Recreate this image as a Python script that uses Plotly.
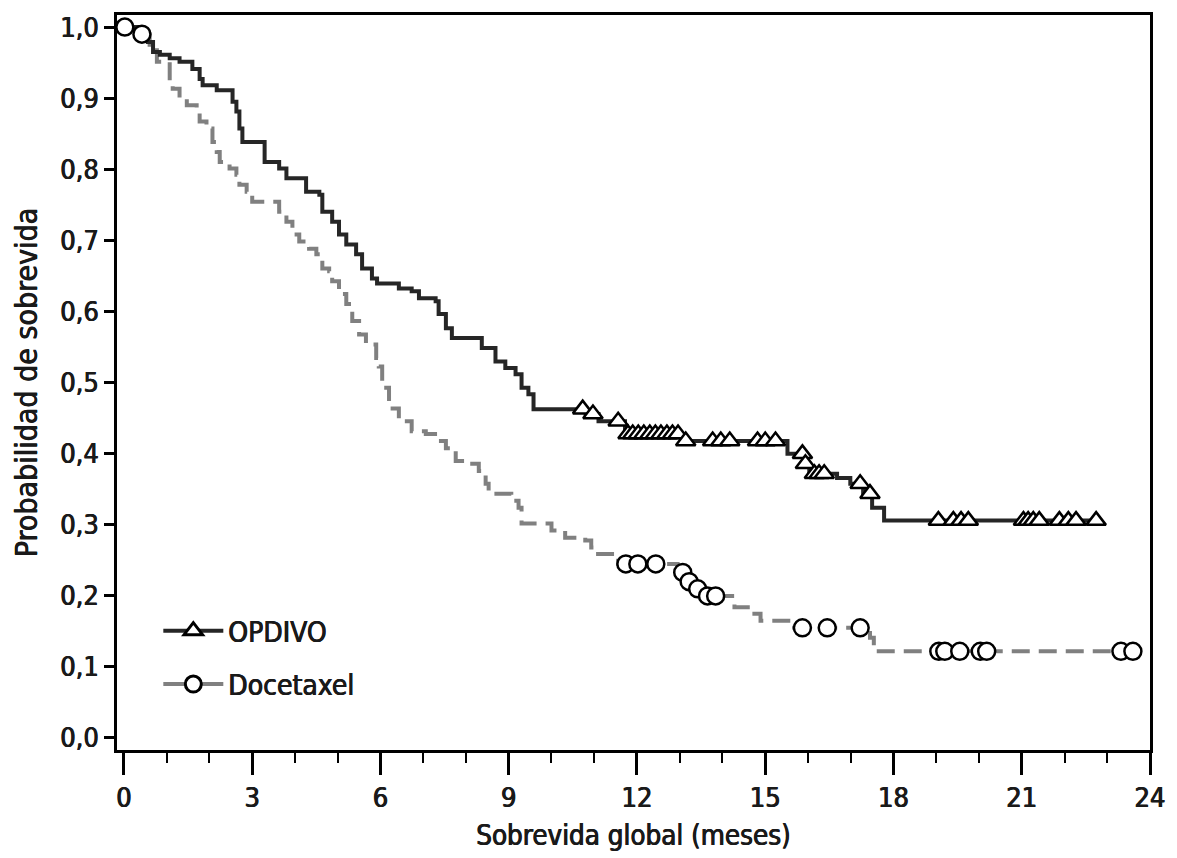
import plotly.graph_objects as go

# ---------------- data ----------------
# OPDIVO: Kaplan-Meier step points (time in months, survival after the step)
opdivo_t = [0.0, 0.44, 0.56, 0.68, 0.84, 1.07, 1.30, 1.60, 1.77, 1.84, 2.17, 2.54, 2.63,
            2.70, 2.77, 3.29, 3.63, 3.80, 4.26, 4.57, 4.64, 4.87, 5.03, 5.20, 5.43,
            5.57, 5.80, 5.92, 6.43, 6.73, 6.90, 7.29, 7.36, 7.53, 7.67, 8.37, 8.69,
            8.92, 9.16, 9.30, 9.46, 9.58, 10.80, 11.10, 11.72, 13.10, 15.52, 15.90,
            16.03, 16.68, 16.99, 17.29, 17.50, 17.78, 22.74]
opdivo_s = [1.000, 0.989, 0.979, 0.965, 0.961, 0.956, 0.951, 0.941, 0.927, 0.918, 0.911,
            0.895, 0.881, 0.857, 0.838, 0.810, 0.801, 0.787, 0.768, 0.764, 0.740, 0.726,
            0.708, 0.694, 0.680, 0.660, 0.646, 0.639, 0.632, 0.628, 0.618, 0.614, 0.596,
            0.576, 0.562, 0.548, 0.529, 0.520, 0.511, 0.492, 0.483, 0.462, 0.455, 0.445,
            0.427, 0.417, 0.399, 0.385, 0.371, 0.365, 0.357, 0.343, 0.323, 0.305, 0.305]
opdivo_censor = [10.73, 10.97, 11.56, 11.79, 11.90, 12.03, 12.16, 12.30, 12.43, 12.56,
                 12.70, 12.83, 12.96, 13.14, 13.77, 13.96, 14.17, 14.82, 15.00, 15.24,
                 15.87, 15.94, 16.15, 16.26, 16.38, 17.22, 17.45, 19.05, 19.40, 19.58,
                 19.75, 21.04, 21.15, 21.27, 21.41, 21.88, 22.09, 22.27, 22.74]

# Docetaxel
doce_t = [0.0, 0.30, 0.60, 0.77, 1.07, 1.14, 1.30, 1.47, 1.70, 1.77, 1.93, 2.07, 2.17,
          2.24, 2.47, 2.63, 2.70, 2.87, 3.00, 3.63, 3.80, 3.94, 4.10, 4.33, 4.50, 4.64,
          4.80, 4.87, 5.03, 5.20, 5.34, 5.50, 5.66, 5.90, 5.96, 6.04, 6.20, 6.43, 6.73,
          7.06, 7.36, 7.53, 7.76, 8.06, 8.30, 8.46, 8.53, 9.06, 9.23, 9.30, 10.00, 10.32,
          10.79, 10.93, 11.09, 11.56, 12.95, 13.15, 13.35, 13.55, 14.28, 14.66, 14.89,
          15.60, 17.45, 17.54, 23.60]
doce_s = [1.000, 0.990, 0.975, 0.951, 0.923, 0.913, 0.899, 0.890, 0.881, 0.867, 0.857,
          0.838, 0.824, 0.810, 0.801, 0.792, 0.778, 0.768, 0.754, 0.740, 0.726, 0.708,
          0.698, 0.688, 0.680, 0.660, 0.656, 0.642, 0.624, 0.610, 0.586, 0.567, 0.553,
          0.534, 0.522, 0.492, 0.463, 0.445, 0.431, 0.427, 0.417, 0.407, 0.389, 0.385,
          0.375, 0.357, 0.343, 0.333, 0.323, 0.301, 0.291, 0.281, 0.277, 0.267, 0.258,
          0.244, 0.232, 0.219, 0.209, 0.199, 0.183, 0.174, 0.164, 0.154, 0.140, 0.121,
          0.121]
doce_censor = [0.02, 0.42, 11.74, 12.02, 12.44, 13.07, 13.22, 13.42, 13.65, 13.84,
               15.87, 16.45, 17.22, 19.06, 19.20, 19.55, 20.03, 20.18, 23.32, 23.60]

x_ticks = [0, 3, 6, 9, 12, 15, 18, 21, 24]
y_ticks = [0.0, 0.1, 0.2, 0.3, 0.4, 0.5, 0.6, 0.7, 0.8, 0.9, 1.0]
y_ticktext = ["0,0", "0,1", "0,2", "0,3", "0,4", "0,5", "0,6", "0,7", "0,8", "0,9", "1,0"]

series_names = ["OPDIVO", "Docetaxel"]


def km_value(times, surv, t):
    """Survival of a KM step curve at time t (last step at or before t)."""
    val = surv[0]
    for ti, si in zip(times, surv):
        if ti <= t:
            val = si
        else:
            break
    return val


FONT = "DejaVu Sans Condensed, Liberation Sans Narrow, Arial Narrow, sans-serif"
TXT = "#1a1a1a"
SHADOW = "0.45px 0 0 #1a1a1a, -0.45px 0 0 #1a1a1a"
DARK = "#262626"
GRAY = "#808080"


def tfont(size):
    return dict(size=size, family=FONT, color=TXT, shadow=SHADOW)


fig = go.Figure()

fig.add_trace(go.Scatter(x=doce_t, y=doce_s, mode="lines", line_shape="hv",
                         line=dict(color=GRAY, width=4, dash="18px,9px"),
                         showlegend=False, hoverinfo="skip"))
fig.add_trace(go.Scatter(x=opdivo_t, y=opdivo_s, mode="lines", line_shape="hv",
                         line=dict(color=DARK, width=4),
                         showlegend=False, hoverinfo="skip"))

fig.add_trace(go.Scatter(x=doce_censor,
                         y=[km_value(doce_t, doce_s, t) for t in doce_censor],
                         mode="markers",
                         marker=dict(symbol="circle", size=17, color="white",
                                     line=dict(color="black", width=2.5)),
                         showlegend=False, hoverinfo="skip"))
fig.add_trace(go.Scatter(x=opdivo_censor,
                         y=[km_value(opdivo_t, opdivo_s, t) for t in opdivo_censor],
                         mode="markers",
                         marker=dict(symbol="triangle-up", size=17, color="white",
                                     line=dict(color="black", width=2.5)),
                         showlegend=False, hoverinfo="skip"))

# legend entries
fig.add_trace(go.Scatter(x=[None], y=[None], mode="lines+markers", name=series_names[0],
                         legendgroup="a",
                         line=dict(color=DARK, width=4),
                         marker=dict(symbol="triangle-up", size=18, color="white",
                                     line=dict(color="black", width=3))))
fig.add_trace(go.Scatter(x=[None], y=[None], mode="lines+markers", name=series_names[1],
                         legendgroup="b",
                         line=dict(color=GRAY, width=4),
                         marker=dict(symbol="circle", size=18, color="white",
                                     line=dict(color="black", width=3))))

fig.update_layout(
    width=1177, height=858,
    margin=dict(l=117, r=23, t=13, b=108, pad=0),
    paper_bgcolor="white", plot_bgcolor="white",
    font=dict(family=FONT, color=TXT, size=26),
    legend=dict(x=0.04, y=0.196, xanchor="left", yanchor="top",
                bgcolor="rgba(0,0,0,0)", font=tfont(28),
                tracegroupgap=14, itemwidth=60, traceorder="grouped"),
    xaxis=dict(range=[-0.163, 24.0], tickvals=x_ticks, ticktext=[str(v) for v in x_ticks],
               ticks="outside", ticklen=22, tickwidth=2.5, tickcolor="black",
               minor=dict(dtick=1, tick0=0, ticks="outside", ticklen=10, tickwidth=2,
                          tickcolor="black"),
               showline=True, linecolor="black", linewidth=2.5, mirror=True,
               showgrid=False, zeroline=False,
               tickfont=tfont(27),
               title=dict(text="Sobrevida global (meses)", standoff=14,
                          font=tfont(27.5))),
    yaxis=dict(range=[-0.018, 1.017], tickvals=y_ticks, ticktext=y_ticktext,
               ticks="outside", ticklen=10, tickwidth=2.5, tickcolor="black",
               showline=True, linecolor="black", linewidth=2.5, mirror=True,
               showgrid=False, zeroline=False,
               tickfont=tfont(27),
               title=dict(text="Probabilidad de sobrevida", standoff=14,
                          font=tfont(30))),
)

fig.write_html("out.html", config={"displayModeBar": False},
               post_script="document.body.style.margin='0';document.body.style.overflow='hidden';")
